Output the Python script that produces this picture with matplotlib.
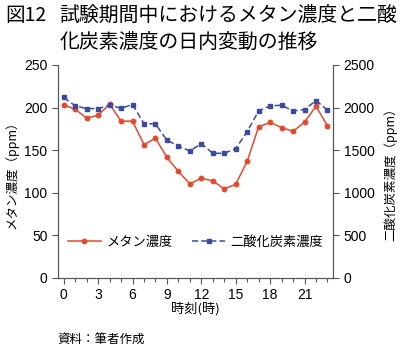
import numpy as np
import matplotlib.pyplot as plt
from matplotlib.ticker import MultipleLocator

plt.rcParams['font.family'] = ['Liberation Sans', 'Noto Sans CJK JP', 'DejaVu Sans']

# hourly values
hours = list(range(24))
methane = [203, 198, 187.5, 191, 204, 184, 184, 156.5, 164, 141.5, 125, 110.5,
           117, 114, 104.5, 110, 137, 177.5, 182.5, 176.5, 172, 183, 201.5, 178.5]
co2 = [2118, 2020, 1988, 1988, 2027, 1992, 2035, 1812, 1808, 1616, 1549, 1490,
       1576, 1463, 1463, 1518, 1718, 1961, 2020, 2027, 1961, 1976, 2082, 1969]
xticks = [0, 3, 6, 9, 12, 15, 18, 21]

red = '#e04a30'
blue = '#3d4b9e'
axis_col = '#555555'
jp = ['Noto Sans CJK JP', 'DejaVu Sans']

fig = plt.figure(figsize=(4, 3.51), dpi=100)
ax1 = fig.add_axes([0.145, 0.208, 0.688, 0.607])
ax2 = ax1.twinx()

l1, = ax1.plot(hours, methane, color=red, marker='o', markersize=3.2, linewidth=1.1,
               label='メタン濃度')
l2, = ax2.plot(hours, co2, color=blue, marker='s', markersize=3.4, linewidth=1.1,
               linestyle=(0, (4, 2)), label='二酸化炭素濃度')

ax1.set_xlim(-0.5, 23.5)
ax1.set_ylim(0, 250)
ax2.set_ylim(0, 2500)
ax1.set_xticks(xticks)
ax1.xaxis.set_minor_locator(MultipleLocator(1))
ax1.set_yticks(range(0, 251, 50))
ax2.set_yticks(range(0, 2501, 500))

for ax in (ax1, ax2):
    ax.spines['top'].set_visible(False)
    for s in ('left', 'right', 'bottom'):
        ax.spines[s].set_color(axis_col)
        ax.spines[s].set_linewidth(0.8)
    ax.tick_params(which='both', color=axis_col, direction='out', labelsize=10,
                   width=0.8)
    ax.tick_params(which='major', length=4)
    ax.tick_params(which='minor', length=3)
ax1.tick_params(axis='x', pad=3)

ax1.set_xlabel('時刻(時)', fontsize=9.5, labelpad=0, family=jp)
ax1.set_ylabel('メタン濃度（ppm）', fontsize=9, labelpad=4, family=jp)
ax2.set_ylabel('二酸化炭素濃度（ppm）', fontsize=9, labelpad=6, family=jp)

ax1.legend(handles=[l1, l2], loc='lower center', bbox_to_anchor=(0.5, 0.08),
           ncol=2, frameon=False, prop={'family': jp, 'size': 9.5},
           handlelength=2.5, columnspacing=1.5, handletextpad=0.4)

fig.text(0.012, 0.955, '図12', fontsize=14, ha='left', va='center', family=jp)
fig.text(0.148, 0.955, '試験期間中におけるメタン濃度と二酸', fontsize=14.3,
         ha='left', va='center', family=jp)
fig.text(0.148, 0.878, '化炭素濃度の日内変動の推移', fontsize=14.3,
         ha='left', va='center', family=jp)
fig.text(0.143, 0.03, '資料：筆者作成', fontsize=9, ha='left', va='center',
         family=jp)

plt.savefig('out.png', dpi=100)
